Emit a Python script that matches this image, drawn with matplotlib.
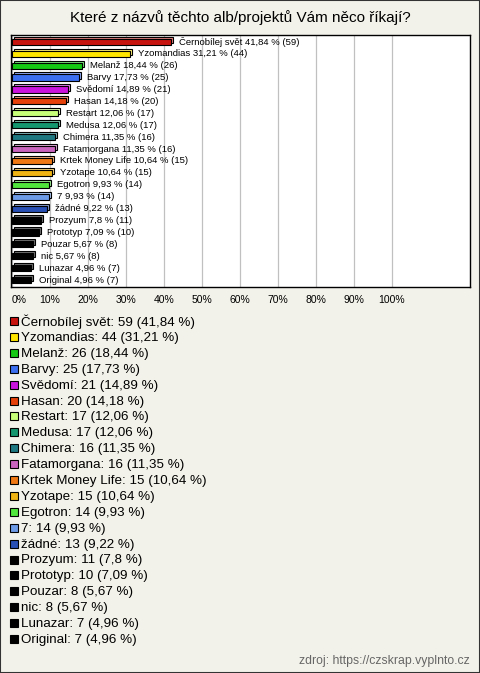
import matplotlib
matplotlib.use('Agg')
import matplotlib.pyplot as plt
import matplotlib.colors as mcolors
from matplotlib.patches import Rectangle
from matplotlib.transforms import ScaledTranslation

plt.rcParams['font.family'] = ['Liberation Sans', 'DejaVu Sans']

TITLE = 'Které z názvů těchto alb/projektů Vám něco říkají?'
SOURCE = 'zdroj: https://czskrap.vyplnto.cz'

names = ['Černobílej svět', 'Yzomandias', 'Melanž', 'Barvy', 'Svědomí', 'Hasan',
         'Restart', 'Medusa', 'Chimera', 'Fatamorgana', 'Krtek Money Life',
         'Yzotape', 'Egotron', '7', 'žádné', 'Prozyum', 'Prototyp', 'Pouzar',
         'nic', 'Lunazar', 'Original']
counts = [59, 44, 26, 25, 21, 20, 17, 17, 16, 16, 15, 15, 14, 14, 13, 11, 10, 8, 8, 7, 7]
percents = [41.84, 31.21, 18.44, 17.73, 14.89, 14.18, 12.06, 12.06, 11.35, 11.35,
            10.64, 10.64, 9.93, 9.93, 9.22, 7.8, 7.09, 5.67, 5.67, 4.96, 4.96]
colors = ['#c8140f', '#ffe600', '#14c814', '#3c6ef0', '#c814dc', '#e6410a',
          '#c8ff78', '#14966e', '#1e7882', '#c864be', '#f07814', '#f0b414',
          '#50e63c', '#6e9be6', '#2850b4', '#000000', '#000000', '#000000',
          '#000000', '#000000', '#000000']
xticks = [0, 10, 20, 30, 40, 50, 60, 70, 80, 90, 100]

BG = '#f3f2ea'
W, H = 480, 673


def fmt(p):
    return ('%g' % p).replace('.', ',')


def lighter(c, f=0.45):
    r, g, b = mcolors.to_rgb(c)
    return (r + (1 - r) * f, g + (1 - g) * f, b + (1 - b) * f)


fig = plt.figure(figsize=(W / 100, H / 100), dpi=100, facecolor=BG)
fig.add_artist(Rectangle((0, 0), 1, 1, transform=fig.transFigure, fill=False,
                         edgecolor='#333333', linewidth=1.5))

fig.text(0.5, 1 - 18 / H, TITLE, ha='center', va='center', fontsize=11)

ax = fig.add_axes([11 / W, 1 - 287 / H, (470 - 11) / W, (287 - 35) / H])
ax.set_facecolor('white')
ax.set_xlim(-0.2, 120.6)
ax.set_ylim(len(names) - 0.42, -0.57)
for x in xticks:
    ax.axvline(x, color='#c0c0c0', linewidth=0.9, zorder=0)
ax.set_xticks(xticks)
ax.set_xticklabels([f'{x}%' for x in xticks], fontsize=7.5)
ax.get_xticklabels()[0].set_horizontalalignment('left')
ax.tick_params(axis='x', length=0, pad=6)
ax.set_yticks([])
for s in ax.spines.values():
    s.set_color('black')
    s.set_linewidth(1)

ypos = list(range(len(names)))
shift = ax.transData + ScaledTranslation(2 / 100, 2 / 100, fig.dpi_scale_trans)
ax.barh(ypos, percents, height=0.52, color=[lighter(c) for c in colors],
        edgecolor='black', linewidth=0.8, transform=shift, zorder=2)
ax.barh(ypos, percents, height=0.52, color=colors, edgecolor='black',
        linewidth=0.8, zorder=3)

lab_off = ax.transData + ScaledTranslation(8 / 100, 0, fig.dpi_scale_trans)
for i, (n, c, p) in enumerate(zip(names, counts, percents)):
    ax.text(p, i, f'{n} {fmt(p)} % ({c})', transform=lab_off, fontsize=6.8,
            va='center', ha='left', zorder=4)

# legend below the chart
for i, (n, c, p, col) in enumerate(zip(names, counts, percents, colors)):
    y = 1 - (322 + i * 15.9) / H
    fig.add_artist(Rectangle((10 / W, y - 3 / H), 8 / W, 8 / H,
                             transform=fig.transFigure, facecolor=col,
                             edgecolor='black', linewidth=0.8))
    fig.text(21 / W, y, f'{n}: {c} ({fmt(p)} %)', fontsize=9.6, va='center', ha='left')

fig.text(470 / W, 1 - 661 / H, SOURCE, fontsize=8.8, color='#666666',
         ha='right', va='center')

fig.savefig('out.png', dpi=100, facecolor=BG)
